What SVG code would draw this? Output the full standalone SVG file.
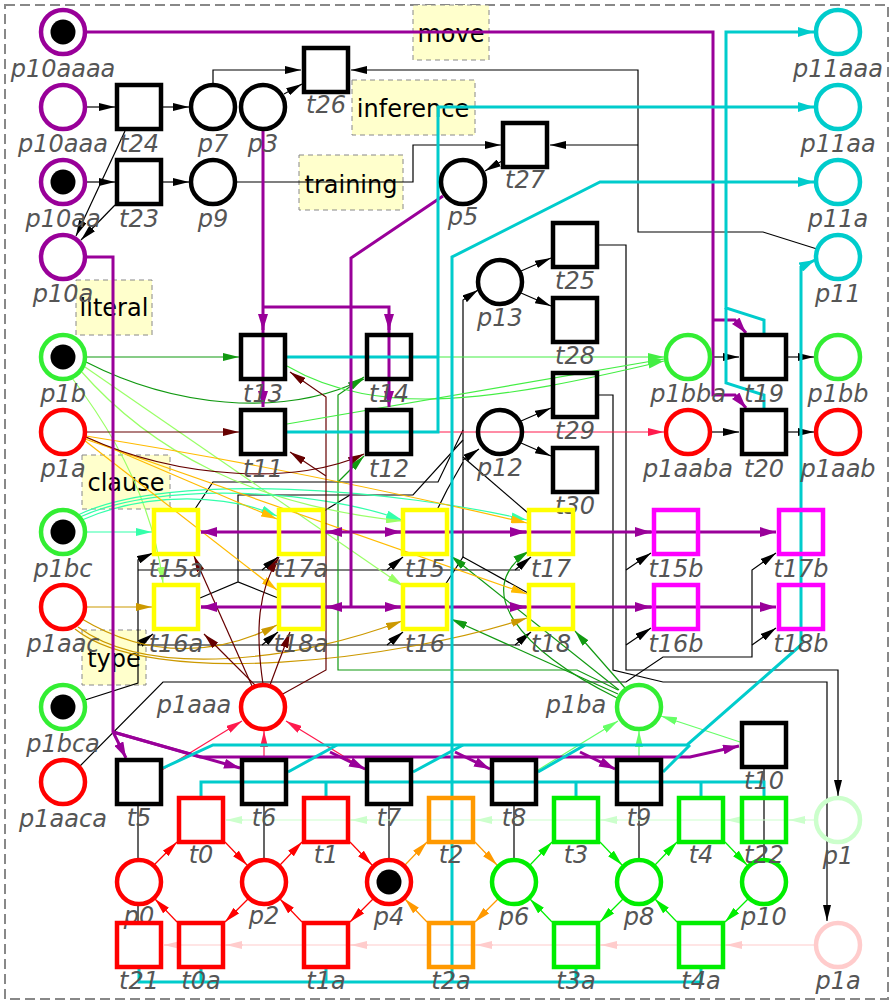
<svg xmlns="http://www.w3.org/2000/svg" width="894" height="1004" viewBox="0 0 894 1004">
<style>
.p{fill:none;stroke-width:4.5}
.t{fill:none;stroke-width:4.5}
.tok{fill:#000}
.lbl{font-family:"DejaVu Sans",sans-serif;font-style:oblique;font-size:24px;fill:#555;text-anchor:middle}
.nb{fill:#ffffcc;stroke:#888;stroke-width:1;stroke-dasharray:5,4}
.nt{font-family:"DejaVu Sans",sans-serif;font-size:24px;fill:#000;text-anchor:middle}
.e{fill:none;stroke-width:1.2}
.th{fill:none;stroke-width:3}
.k{stroke:#000}.pu{stroke:#990099}.cy{stroke:#00cccc}.dg{stroke:#119911}.lg{stroke:#99ff66}.sg{stroke:#33ffaa}
.go{stroke:#ffbb00}.gr{stroke:#cc9900}.dr{stroke:#660000}.cr{stroke:#ff1a4d}.re{stroke:#ff0000}.or{stroke:#ff9900}
.gn{stroke:#00ee00}.pg{stroke:#ccffcc}.pk{stroke:#ffcccc}.l2{stroke:#66ff66}.l3{stroke:#44ee44}
</style>
<defs>
<marker id="mk" viewBox="0 0 16 8" refX="16" refY="4" markerWidth="16" markerHeight="8" markerUnits="userSpaceOnUse" orient="auto"><path d="M0,0L16,4L0,8z" fill="#000"/></marker>
<marker id="mpu" viewBox="0 0 16 10" refX="16" refY="5" markerWidth="16" markerHeight="10" markerUnits="userSpaceOnUse" orient="auto"><path d="M0,0L16,5L0,10z" fill="#990099"/></marker>
<marker id="mcy" viewBox="0 0 16 10" refX="16" refY="5" markerWidth="16" markerHeight="10" markerUnits="userSpaceOnUse" orient="auto"><path d="M0,0L16,5L0,10z" fill="#00cccc"/></marker>
<marker id="mdg" viewBox="0 0 16 8" refX="16" refY="4" markerWidth="16" markerHeight="8" markerUnits="userSpaceOnUse" orient="auto"><path d="M0,0L16,4L0,8z" fill="#119911"/></marker>
<marker id="mlg" viewBox="0 0 16 8" refX="16" refY="4" markerWidth="16" markerHeight="8" markerUnits="userSpaceOnUse" orient="auto"><path d="M0,0L16,4L0,8z" fill="#99ff66"/></marker>
<marker id="msg" viewBox="0 0 16 8" refX="16" refY="4" markerWidth="16" markerHeight="8" markerUnits="userSpaceOnUse" orient="auto"><path d="M0,0L16,4L0,8z" fill="#33ffaa"/></marker>
<marker id="mgo" viewBox="0 0 16 8" refX="16" refY="4" markerWidth="16" markerHeight="8" markerUnits="userSpaceOnUse" orient="auto"><path d="M0,0L16,4L0,8z" fill="#ffbb00"/></marker>
<marker id="mgr" viewBox="0 0 16 8" refX="16" refY="4" markerWidth="16" markerHeight="8" markerUnits="userSpaceOnUse" orient="auto"><path d="M0,0L16,4L0,8z" fill="#cc9900"/></marker>
<marker id="mdr" viewBox="0 0 16 8" refX="16" refY="4" markerWidth="16" markerHeight="8" markerUnits="userSpaceOnUse" orient="auto"><path d="M0,0L16,4L0,8z" fill="#660000"/></marker>
<marker id="mcr" viewBox="0 0 16 8" refX="16" refY="4" markerWidth="16" markerHeight="8" markerUnits="userSpaceOnUse" orient="auto"><path d="M0,0L16,4L0,8z" fill="#ff1a4d"/></marker>
<marker id="mre" viewBox="0 0 16 8" refX="16" refY="4" markerWidth="16" markerHeight="8" markerUnits="userSpaceOnUse" orient="auto"><path d="M0,0L16,4L0,8z" fill="#ff0000"/></marker>
<marker id="mor" viewBox="0 0 16 8" refX="16" refY="4" markerWidth="16" markerHeight="8" markerUnits="userSpaceOnUse" orient="auto"><path d="M0,0L16,4L0,8z" fill="#ff9900"/></marker>
<marker id="mgn" viewBox="0 0 16 8" refX="16" refY="4" markerWidth="16" markerHeight="8" markerUnits="userSpaceOnUse" orient="auto"><path d="M0,0L16,4L0,8z" fill="#00ee00"/></marker>
<marker id="mpg" viewBox="0 0 16 8" refX="16" refY="4" markerWidth="16" markerHeight="8" markerUnits="userSpaceOnUse" orient="auto"><path d="M0,0L16,4L0,8z" fill="#ccffcc"/></marker>
<marker id="mpk" viewBox="0 0 16 8" refX="16" refY="4" markerWidth="16" markerHeight="8" markerUnits="userSpaceOnUse" orient="auto"><path d="M0,0L16,4L0,8z" fill="#ffcccc"/></marker>
<marker id="ml2" viewBox="0 0 16 8" refX="16" refY="4" markerWidth="16" markerHeight="8" markerUnits="userSpaceOnUse" orient="auto"><path d="M0,0L16,4L0,8z" fill="#66ff66"/></marker>
<marker id="ml3" viewBox="0 0 16 8" refX="16" refY="4" markerWidth="16" markerHeight="8" markerUnits="userSpaceOnUse" orient="auto"><path d="M0,0L16,4L0,8z" fill="#44ee44"/></marker>
</defs>
<rect x="5" y="5" width="883" height="994" fill="none" stroke="#888" stroke-width="2" stroke-dasharray="10,5"/>
<g id="notes">
<rect class="nb" x="413" y="5" width="76" height="55"/><text class="nt" x="451" y="42">move</text>
<rect class="nb" x="352" y="80" width="123" height="55"/><text class="nt" x="413" y="117">inference</text>
<rect class="nb" x="299" y="155" width="104" height="55"/><text class="nt" x="351" y="193">training</text>
<rect class="nb" x="76" y="280" width="76" height="55"/><text class="nt" x="114" y="316">literal</text>
<rect class="nb" x="82" y="455" width="88" height="54"/><text class="nt" x="126" y="491">clause</text>
<rect class="nb" x="82" y="630" width="64" height="55"/><text class="nt" x="114" y="667">type</text>
</g>
<g id="connectors">
<g class="e k">
<path d="M87,107H115" marker-end="url(#mk)"/>
<path d="M163,107H189" marker-end="url(#mk)"/>
<path d="M87,182H115" marker-end="url(#mk)"/>
<path d="M163,182H189" marker-end="url(#mk)"/>
<path d="M125,131L76,236" marker-end="url(#mk)"/>
<path d="M115,205L81,240" marker-end="url(#mk)"/>
<path d="M213,84V70H301" marker-end="url(#mk)"/>
<path d="M284,94L302,84" marker-end="url(#mk)"/>
<path d="M817,249L763,232H638V70H351" marker-end="url(#mk)"/>
<path d="M638,145H550" marker-end="url(#mk)"/>
<path d="M236,182H413V145H501" marker-end="url(#mk)"/>
<path d="M502,161L485,171" marker-end="url(#mk)"/>
<path d="M521,271L551,258" marker-end="url(#mk)"/>
<path d="M521,293L551,306" marker-end="url(#mk)"/>
<path d="M521,421L551,408" marker-end="url(#mk)"/>
<path d="M521,443L551,456" marker-end="url(#mk)"/>
<path d="M599,245H626V670H838V796" marker-end="url(#mk)"/>
<path d="M599,395H613V670L663,682H827V921" marker-end="url(#mk)"/>
<path d="M80,766L163,682H626L663,657H752V570L776,553" marker-end="url(#mk)"/>
<path d="M752,645L776,628" marker-end="url(#mk)"/>
<path d="M626,570L651,553" marker-end="url(#mk)"/>
<path d="M626,645L651,628" marker-end="url(#mk)"/>
<path d="M85,700L138,683V560L153,553" marker-end="url(#mk)"/>
<path d="M138,645L153,634" marker-end="url(#mk)"/>
<path d="M138,570H520"/>
<path d="M138,645H520"/>
<path d="M262,570L278,557" marker-end="url(#mk)"/>
<path d="M387,570L403,557" marker-end="url(#mk)"/>
<path d="M515,570L531,557" marker-end="url(#mk)"/>
<path d="M262,645L278,632" marker-end="url(#mk)"/>
<path d="M387,645L403,632" marker-end="url(#mk)"/>
<path d="M515,645L531,632" marker-end="url(#mk)"/>
<path d="M463,557V300L478,290" marker-end="url(#mk)"/>
<path d="M463,460L479,449" marker-end="url(#mk)"/>
<path d="M195,509L213,482H438L463,430"/>
<path d="M200,598L238,582L278,598M238,582V495H413L463,440"/>
<path d="M324,511L350,495"/>
<path d="M437,510L447,490L463,462"/>
<path d="M528,513L463,457"/>
<path d="M445,585L463,557L528,593"/>
<path d="M138,806V860M138,904V922M264,806V860M389,806V860M514,806V860M639,806V860M764,768V858"/>
</g>
<g class="e dg">
<path d="M87,357H239" marker-end="url(#mdg)"/>
<path d="M86,362C170,405 280,420 364,379" marker-end="url(#mdg)"/>
<path d="M618,690L577,670H338V395L364,377" marker-end="url(#mdg)"/>
<path d="M338,482L364,456" marker-end="url(#mdg)"/>
<path d="M619,690L451,556" marker-end="url(#mdg)"/>
<path d="M618,694L451,619" marker-end="url(#mdg)"/>
<path d="M617,698C520,650 470,590 529,551" marker-end="url(#mdg)"/>
<path d="M625,688L575,631" marker-end="url(#mdg)"/>
</g>
<g class="e lg">
<path d="M72,378Q150,480 163,583" marker-end="url(#mlg)"/>
<path d="M80,370C150,450 250,505 402,521" marker-end="url(#mlg)"/>
<path d="M85,367L403,586" marker-end="url(#mlg)"/>
</g>
<g class="e sg">
<path d="M87,532H152" marker-end="url(#msg)"/>
<path d="M82,520C150,490 230,495 277,516" marker-end="url(#msg)"/>
<path d="M80,517C160,480 320,490 402,520" marker-end="url(#msg)"/>
<path d="M78,515C170,470 400,490 527,520" marker-end="url(#msg)"/>
</g>
<g class="e go">
<path d="M85,437L277,519" marker-end="url(#mgo)"/>
<path d="M84,440L277,590" marker-end="url(#mgo)"/>
<path d="M86,436Q300,470 527,523" marker-end="url(#mgo)"/>
<path d="M85,439L527,594" marker-end="url(#mgo)"/>
</g>
<g class="e gr">
<path d="M87,607H152" marker-end="url(#mgr)"/>
<path d="M82,619C150,660 220,655 277,625" marker-end="url(#mgr)"/>
<path d="M78,627C150,680 300,660 402,621" marker-end="url(#mgr)"/>
<path d="M75,629C150,690 400,660 527,618" marker-end="url(#mgr)"/>
</g>
<g class="e dr">
<path d="M87,432H239" marker-end="url(#mdr)"/>
<path d="M86,437C180,480 300,485 364,454" marker-end="url(#mdr)"/>
<path d="M252,686L194,556" marker-end="url(#mdr)"/>
<path d="M256,686L204,634" marker-end="url(#mdr)"/>
<path d="M263,684C255,630 258,590 279,557" marker-end="url(#mdr)"/>
<path d="M270,685L290,632" marker-end="url(#mdr)"/>
<path d="M281,695L326,670V397L290,372" marker-end="url(#mdr)"/>
<path d="M326,476L290,452" marker-end="url(#mdr)"/>
</g>
<g class="e cr">
<path d="M287,432H664" marker-end="url(#mcr)"/>
<path d="M162,770L242,721" marker-end="url(#mcr)"/>
<path d="M264,759V731" marker-end="url(#mcr)"/>
<path d="M366,770L286,721" marker-end="url(#mcr)"/>
</g>
<g class="e l2">
<path d="M538,770L618,721" marker-end="url(#ml2)"/>
<path d="M639,759V731" marker-end="url(#ml2)"/>
<path d="M740,742L661,716" marker-end="url(#ml2)"/>
</g>
<g class="e l3">
<path d="M287,357H664" marker-end="url(#ml3)"/>
<path d="M287,366C380,420 500,400 664,361" marker-end="url(#ml3)"/>
<path d="M287,424L664,359" marker-end="url(#ml3)"/>
</g>
<g class="e k">
<path d="M711,357H739" marker-end="url(#mk)"/>
<path d="M788,357H814" marker-end="url(#mk)"/>
<path d="M711,432H739" marker-end="url(#mk)"/>
<path d="M788,432H814" marker-end="url(#mk)"/>
</g>
<g class="e re">
<path d="M154,865L177,842" marker-end="url(#mre)"/>
<path d="M225,842L247,865" marker-end="url(#mre)"/>
<path d="M280,865L302,842" marker-end="url(#mre)"/>
<path d="M350,842L372,865" marker-end="url(#mre)"/>
<path d="M177,922L155,899" marker-end="url(#mre)"/>
<path d="M248,899L225,922" marker-end="url(#mre)"/>
<path d="M302,922L280,899" marker-end="url(#mre)"/>
<path d="M373,899L350,922" marker-end="url(#mre)"/>
</g>
<g class="e or">
<path d="M405,865L427,842" marker-end="url(#mor)"/>
<path d="M475,842L497,865" marker-end="url(#mor)"/>
<path d="M427,922L405,899" marker-end="url(#mor)"/>
<path d="M498,899L475,922" marker-end="url(#mor)"/>
</g>
<g class="e gn">
<path d="M530,865L552,842" marker-end="url(#mgn)"/>
<path d="M600,842L622,865" marker-end="url(#mgn)"/>
<path d="M655,865L677,842" marker-end="url(#mgn)"/>
<path d="M725,842L747,865" marker-end="url(#mgn)"/>
<path d="M552,922L530,899" marker-end="url(#mgn)"/>
<path d="M623,899L600,922" marker-end="url(#mgn)"/>
<path d="M677,922L655,899" marker-end="url(#mgn)"/>
<path d="M748,899L725,922" marker-end="url(#mgn)"/>
</g>
<g class="e pg">
<path d="M814,820H226"/>
<path d="M806,820H789" marker-end="url(#mpg)"/>
<path d="M743,820H726" marker-end="url(#mpg)"/>
<path d="M618,820H601" marker-end="url(#mpg)"/>
<path d="M493,820H476" marker-end="url(#mpg)"/>
<path d="M368,820H351" marker-end="url(#mpg)"/>
<path d="M243,820H226" marker-end="url(#mpg)"/>
</g>
<g class="e pk">
<path d="M814,945H164"/>
<path d="M743,945H726" marker-end="url(#mpk)"/>
<path d="M618,945H601" marker-end="url(#mpk)"/>
<path d="M493,945H476" marker-end="url(#mpk)"/>
<path d="M368,945H351" marker-end="url(#mpk)"/>
<path d="M243,945H226" marker-end="url(#mpk)"/>
<path d="M181,945H164" marker-end="url(#mpk)"/>
</g>
<g class="th pu">
<path d="M87,32H713V395H735L746,408" marker-end="url(#mpu)"/>
<path d="M713,320H735L746,333" marker-end="url(#mpu)"/>
<path d="M263,130V407" marker-end="url(#mpu)"/>
<path d="M263,314V330" marker-end="url(#mpu)"/>
<path d="M263,307H389V407" marker-end="url(#mpu)"/>
<path d="M389,314V330" marker-end="url(#mpu)"/>
<path d="M443,196L351,258V607"/>
<path d="M201,532H776" marker-end="url(#mpu)"/>
<path d="M216,532H201" marker-end="url(#mpu)"/>
<path d="M341,532H326" marker-end="url(#mpu)"/>
<path d="M386,532H401" marker-end="url(#mpu)"/>
<path d="M511,532H526" marker-end="url(#mpu)"/>
<path d="M636,532H651" marker-end="url(#mpu)"/>
<path d="M201,607H776" marker-end="url(#mpu)"/>
<path d="M216,607H201" marker-end="url(#mpu)"/>
<path d="M341,607H326" marker-end="url(#mpu)"/>
<path d="M386,607H401" marker-end="url(#mpu)"/>
<path d="M511,607H526" marker-end="url(#mpu)"/>
<path d="M636,607H651" marker-end="url(#mpu)"/>
<path d="M87,257H113V732L126,758" marker-end="url(#mpu)"/>
<path d="M113,732L240,768" marker-end="url(#mpu)"/>
<path d="M113,732L200,757H690L739,746" marker-end="url(#mpu)"/>
<path d="M330,752L365,769" marker-end="url(#mpu)"/>
<path d="M455,752L490,769" marker-end="url(#mpu)"/>
<path d="M580,752L615,769" marker-end="url(#mpu)"/>
</g>
<g class="th cy">
<path d="M764,334V320L726,308V32H814" marker-end="url(#mcy)"/>
<path d="M764,409V395L726,383V308"/>
<path d="M287,357H438"/>
<path d="M287,432H438V107H814" marker-end="url(#mcy)"/>
<path d="M452,982V257L600,182H814" marker-end="url(#mcy)"/>
<path d="M139,968V982H701V968M201,968V982M326,968V982M576,968V982"/>
<path d="M201,797V782H764V797M326,782V797M576,782V797M701,782V797"/>
<path d="M163,768L213,745H687L801,645V267L815,260" marker-end="url(#mcy)"/>
<path d="M288,772L337,745M413,772L463,745M538,772L585,745M663,772L690,745"/>
</g>
</g>
<g id="p10aaaa"><circle class="p" cx="63" cy="32" r="22" stroke="#990099"/><circle class="tok" cx="63" cy="32" r="12.5"/><text class="lbl" x="63" y="77">p10aaaa</text></g>
<g id="p10aaa"><circle class="p" cx="63" cy="107" r="22" stroke="#990099"/><text class="lbl" x="63" y="152">p10aaa</text></g>
<g id="p10aa"><circle class="p" cx="63" cy="182" r="22" stroke="#990099"/><circle class="tok" cx="63" cy="182" r="12.5"/><text class="lbl" x="63" y="227">p10aa</text></g>
<g id="p10a"><circle class="p" cx="63" cy="257" r="22" stroke="#990099"/><text class="lbl" x="63" y="302">p10a</text></g>
<g id="p1b"><circle class="p" cx="63" cy="357" r="22" stroke="#33ee33"/><circle class="tok" cx="63" cy="357" r="12.5"/><text class="lbl" x="63" y="402">p1b</text></g>
<g id="p1a_l"><circle class="p" cx="63" cy="432" r="22" stroke="#ff0000"/><text class="lbl" x="63" y="477">p1a</text></g>
<g id="p1bc"><circle class="p" cx="63" cy="532" r="22" stroke="#33ee33"/><circle class="tok" cx="63" cy="532" r="12.5"/><text class="lbl" x="63" y="577">p1bc</text></g>
<g id="p1aac"><circle class="p" cx="63" cy="607" r="22" stroke="#ff0000"/><text class="lbl" x="63" y="652">p1aac</text></g>
<g id="p1bca"><circle class="p" cx="63" cy="707" r="22" stroke="#33ee33"/><circle class="tok" cx="63" cy="707" r="12.5"/><text class="lbl" x="63" y="752">p1bca</text></g>
<g id="p1aaca"><circle class="p" cx="63" cy="782" r="22" stroke="#ff0000"/><text class="lbl" x="63" y="827">p1aaca</text></g>
<g id="p7"><circle class="p" cx="213" cy="107" r="22" stroke="#000"/><text class="lbl" x="213" y="152">p7</text></g>
<g id="p3"><circle class="p" cx="263" cy="107" r="22" stroke="#000"/><text class="lbl" x="263" y="152">p3</text></g>
<g id="p9"><circle class="p" cx="213" cy="182" r="22" stroke="#000"/><text class="lbl" x="213" y="227">p9</text></g>
<g id="p5"><circle class="p" cx="463" cy="182" r="22" stroke="#000"/><text class="lbl" x="463" y="225">p5</text></g>
<g id="p13"><circle class="p" cx="500" cy="282" r="22" stroke="#000"/><text class="lbl" x="500" y="326">p13</text></g>
<g id="p12"><circle class="p" cx="500" cy="432" r="22" stroke="#000"/><text class="lbl" x="500" y="476">p12</text></g>
<g id="p1bba"><circle class="p" cx="688" cy="357" r="22" stroke="#33ee33"/><text class="lbl" x="688" y="402">p1bba</text></g>
<g id="p1bb"><circle class="p" cx="838" cy="357" r="22" stroke="#33ee33"/><text class="lbl" x="838" y="402">p1bb</text></g>
<g id="p1aaba"><circle class="p" cx="688" cy="432" r="22" stroke="#ff0000"/><text class="lbl" x="688" y="477">p1aaba</text></g>
<g id="p1aab"><circle class="p" cx="838" cy="432" r="22" stroke="#ff0000"/><text class="lbl" x="838" y="477">p1aab</text></g>
<g id="p11aaa"><circle class="p" cx="838" cy="32" r="22" stroke="#00cccc"/><text class="lbl" x="838" y="77">p11aaa</text></g>
<g id="p11aa"><circle class="p" cx="838" cy="107" r="22" stroke="#00cccc"/><text class="lbl" x="838" y="152">p11aa</text></g>
<g id="p11a"><circle class="p" cx="838" cy="182" r="22" stroke="#00cccc"/><text class="lbl" x="838" y="227">p11a</text></g>
<g id="p11"><circle class="p" cx="838" cy="257" r="22" stroke="#00cccc"/><text class="lbl" x="838" y="302">p11</text></g>
<g id="p1aaa"><circle class="p" cx="263" cy="707" r="22" stroke="#ff0000"/><text class="lbl" x="194" y="713">p1aaa</text></g>
<g id="p1ba"><circle class="p" cx="639" cy="707" r="22" stroke="#33ee33"/><text class="lbl" x="576" y="713">p1ba</text></g>
<g id="p0"><circle class="p" cx="139" cy="882" r="22" stroke="#ff0000"/><text class="lbl" x="139" y="924">p0</text></g>
<g id="p2"><circle class="p" cx="264" cy="882" r="22" stroke="#ff0000"/><text class="lbl" x="264" y="924">p2</text></g>
<g id="p4"><circle class="p" cx="389" cy="882" r="22" stroke="#ff0000"/><circle class="tok" cx="389" cy="882" r="12.5"/><text class="lbl" x="389" y="925">p4</text></g>
<g id="p6"><circle class="p" cx="514" cy="882" r="22" stroke="#00ee00"/><text class="lbl" x="514" y="925">p6</text></g>
<g id="p8"><circle class="p" cx="639" cy="882" r="22" stroke="#00ee00"/><text class="lbl" x="639" y="925">p8</text></g>
<g id="p10"><circle class="p" cx="764" cy="882" r="22" stroke="#00ee00"/><text class="lbl" x="764" y="925">p10</text></g>
<g id="p1"><circle class="p" cx="838" cy="820" r="22" stroke="#ccffcc"/><text class="lbl" x="838" y="864">p1</text></g>
<g id="p1a"><circle class="p" cx="838" cy="945" r="22" stroke="#ffcccc"/><text class="lbl" x="838" y="989">p1a</text></g>
<g id="t24"><rect class="t" x="117" y="85" width="44" height="44" stroke="#000"/><text class="lbl" x="139" y="152">t24</text></g>
<g id="t23"><rect class="t" x="117" y="160" width="44" height="44" stroke="#000"/><text class="lbl" x="139" y="227">t23</text></g>
<g id="t26"><rect class="t" x="304" y="48" width="44" height="44" stroke="#000"/><text class="lbl" x="326" y="113">t26</text></g>
<g id="t27"><rect class="t" x="503" y="123" width="44" height="44" stroke="#000"/><text class="lbl" x="525" y="188">t27</text></g>
<g id="t13"><rect class="t" x="241" y="335" width="44" height="44" stroke="#000"/><text class="lbl" x="263" y="402">t13</text></g>
<g id="t11"><rect class="t" x="241" y="410" width="44" height="44" stroke="#000"/><text class="lbl" x="263" y="477">t11</text></g>
<g id="t14"><rect class="t" x="367" y="335" width="44" height="44" stroke="#000"/><text class="lbl" x="389" y="402">t14</text></g>
<g id="t12"><rect class="t" x="367" y="410" width="44" height="44" stroke="#000"/><text class="lbl" x="389" y="477">t12</text></g>
<g id="t25"><rect class="t" x="553" y="223" width="44" height="44" stroke="#000"/><text class="lbl" x="575" y="289">t25</text></g>
<g id="t28"><rect class="t" x="553" y="298" width="44" height="44" stroke="#000"/><text class="lbl" x="575" y="364">t28</text></g>
<g id="t29"><rect class="t" x="553" y="373" width="44" height="44" stroke="#000"/><text class="lbl" x="575" y="439">t29</text></g>
<g id="t30"><rect class="t" x="553" y="448" width="44" height="44" stroke="#000"/><text class="lbl" x="575" y="514">t30</text></g>
<g id="t19"><rect class="t" x="742" y="335" width="44" height="44" stroke="#000"/><text class="lbl" x="764" y="402">t19</text></g>
<g id="t20"><rect class="t" x="742" y="410" width="44" height="44" stroke="#000"/><text class="lbl" x="764" y="477">t20</text></g>
<g id="t15a"><rect class="t" x="154" y="510" width="44" height="44" stroke="#ffff00"/><text class="lbl" x="176" y="577">t15a</text></g>
<g id="t17a"><rect class="t" x="279" y="510" width="44" height="44" stroke="#ffff00"/><text class="lbl" x="301" y="577">t17a</text></g>
<g id="t15"><rect class="t" x="403" y="510" width="44" height="44" stroke="#ffff00"/><text class="lbl" x="425" y="577">t15</text></g>
<g id="t17"><rect class="t" x="529" y="510" width="44" height="44" stroke="#ffff00"/><text class="lbl" x="551" y="577">t17</text></g>
<g id="t16a"><rect class="t" x="154" y="585" width="44" height="44" stroke="#ffff00"/><text class="lbl" x="176" y="652">t16a</text></g>
<g id="t18a"><rect class="t" x="279" y="585" width="44" height="44" stroke="#ffff00"/><text class="lbl" x="301" y="652">t18a</text></g>
<g id="t16"><rect class="t" x="403" y="585" width="44" height="44" stroke="#ffff00"/><text class="lbl" x="425" y="652">t16</text></g>
<g id="t18"><rect class="t" x="529" y="585" width="44" height="44" stroke="#ffff00"/><text class="lbl" x="551" y="652">t18</text></g>
<g id="t15b"><rect class="t" x="654" y="510" width="44" height="44" stroke="#ff00ff"/><text class="lbl" x="676" y="577">t15b</text></g>
<g id="t17b"><rect class="t" x="779" y="510" width="44" height="44" stroke="#ff00ff"/><text class="lbl" x="801" y="577">t17b</text></g>
<g id="t16b"><rect class="t" x="654" y="585" width="44" height="44" stroke="#ff00ff"/><text class="lbl" x="676" y="652">t16b</text></g>
<g id="t18b"><rect class="t" x="779" y="585" width="44" height="44" stroke="#ff00ff"/><text class="lbl" x="801" y="652">t18b</text></g>
<g id="t5"><rect class="t" x="117" y="760" width="44" height="44" stroke="#000"/><text class="lbl" x="139" y="826">t5</text></g>
<g id="t6"><rect class="t" x="242" y="760" width="44" height="44" stroke="#000"/><text class="lbl" x="264" y="826">t6</text></g>
<g id="t7"><rect class="t" x="367" y="760" width="44" height="44" stroke="#000"/><text class="lbl" x="389" y="826">t7</text></g>
<g id="t8"><rect class="t" x="492" y="760" width="44" height="44" stroke="#000"/><text class="lbl" x="514" y="826">t8</text></g>
<g id="t9"><rect class="t" x="617" y="760" width="44" height="44" stroke="#000"/><text class="lbl" x="639" y="826">t9</text></g>
<g id="t10"><rect class="t" x="742" y="723" width="44" height="44" stroke="#000"/><text class="lbl" x="764" y="789">t10</text></g>
<g id="t0"><rect class="t" x="179" y="798" width="44" height="44" stroke="#ff0000"/><text class="lbl" x="201" y="863">t0</text></g>
<g id="t1"><rect class="t" x="304" y="798" width="44" height="44" stroke="#ff0000"/><text class="lbl" x="326" y="863">t1</text></g>
<g id="t2"><rect class="t" x="429" y="798" width="44" height="44" stroke="#ff9900"/><text class="lbl" x="451" y="863">t2</text></g>
<g id="t3"><rect class="t" x="554" y="798" width="44" height="44" stroke="#00ee00"/><text class="lbl" x="576" y="863">t3</text></g>
<g id="t4"><rect class="t" x="679" y="798" width="44" height="44" stroke="#00ee00"/><text class="lbl" x="701" y="863">t4</text></g>
<g id="t22"><rect class="t" x="742" y="798" width="44" height="44" stroke="#00ee00"/><text class="lbl" x="764" y="863">t22</text></g>
<g id="t21"><rect class="t" x="117" y="923" width="44" height="44" stroke="#ff0000"/><text class="lbl" x="139" y="989">t21</text></g>
<g id="t0a"><rect class="t" x="179" y="923" width="44" height="44" stroke="#ff0000"/><text class="lbl" x="201" y="989">t0a</text></g>
<g id="t1a"><rect class="t" x="304" y="923" width="44" height="44" stroke="#ff0000"/><text class="lbl" x="326" y="989">t1a</text></g>
<g id="t2a"><rect class="t" x="429" y="923" width="44" height="44" stroke="#ff9900"/><text class="lbl" x="451" y="989">t2a</text></g>
<g id="t3a"><rect class="t" x="554" y="923" width="44" height="44" stroke="#00ee00"/><text class="lbl" x="576" y="989">t3a</text></g>
<g id="t4a"><rect class="t" x="679" y="923" width="44" height="44" stroke="#00ee00"/><text class="lbl" x="701" y="989">t4a</text></g>
</svg>
